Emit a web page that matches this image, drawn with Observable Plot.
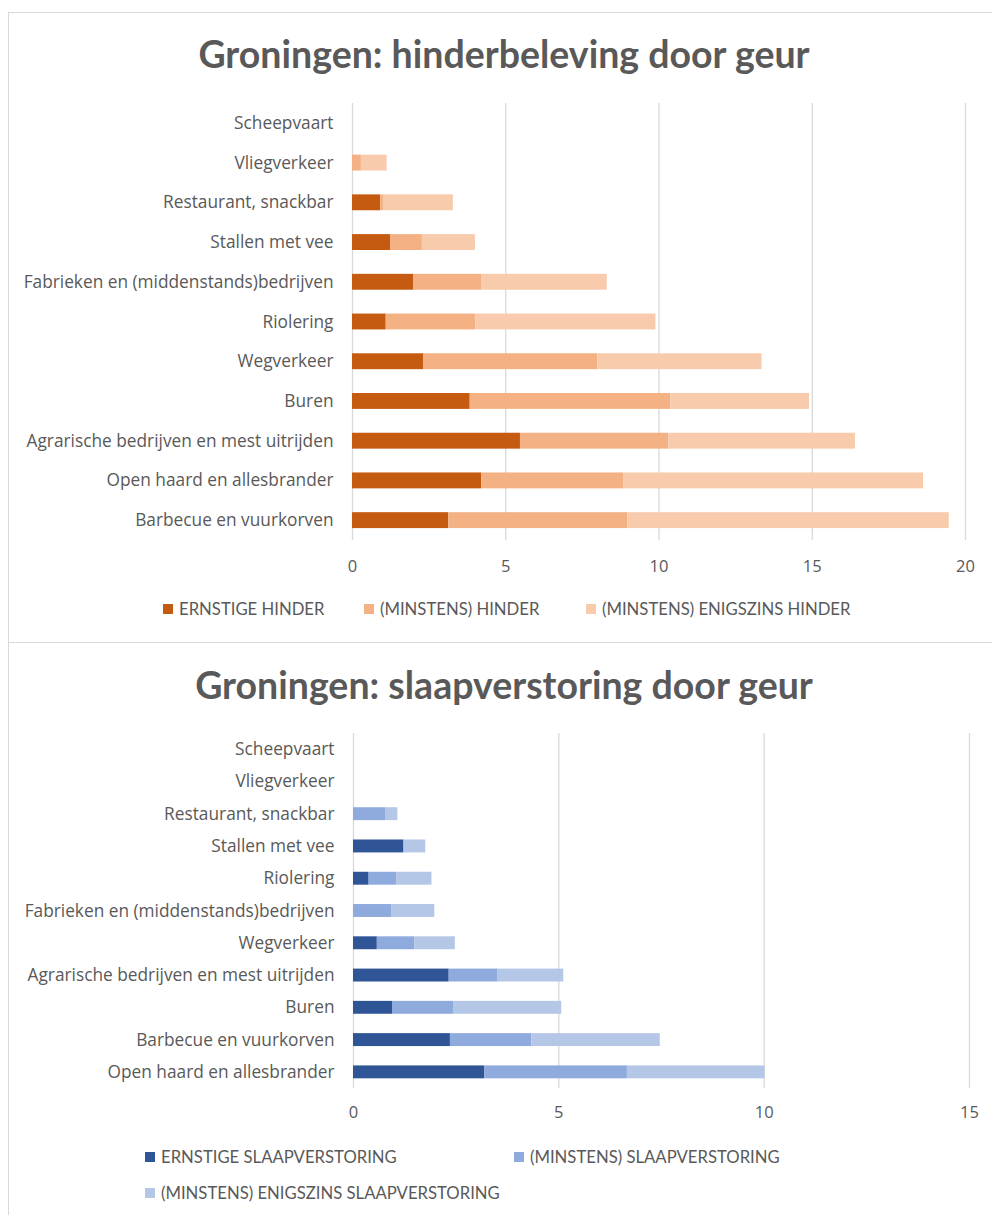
<!DOCTYPE html>
<html>
<head>
<meta charset="utf-8">
<script src="https://cdn.jsdelivr.net/npm/d3@7"></script>
<script src="https://cdn.jsdelivr.net/npm/@observablehq/plot@0.6"></script>
<style>
  html, body { margin: 0; padding: 0; background: #fff; }
  body { width: 992px; height: 1215px; position: relative; overflow: hidden; font-family: Lato, "Open Sans", sans-serif; color: #595959; }
  .panel { position: absolute; left: 8px; width: 1000px; border-left: 1.5px solid #d9d9d9; border-top: 1.5px solid #d9d9d9; box-sizing: border-box; }
  .title { position: absolute; left: 0; width: 1008px; text-align: center; font-weight: 700; font-size: 37.5px; color: #595959; white-space: nowrap; }
  .chart { position: absolute; left: 0; }
  .leg { position: absolute; font-size: 16.7px; color: #595959; white-space: nowrap; line-height: 1; }
  .sw { position: absolute; width: 10px; height: 10px; }
</style>
</head>
<body>
<div class="panel" style="top:12px;height:631px;"></div>
<div class="panel" style="top:642px;height:600px;"></div>
<div class="title" id="t1" style="top:31px;">Groningen: hinderbeleving door geur</div>
<div class="title" id="t2" style="top:662px;">Groningen: slaapverstoring door geur</div>
<div id="c1" class="chart" style="top:0px;"></div>
<div id="c2" class="chart" style="top:642px;"></div>
<div id="legends"></div>
<script>
// ---- Data: chart 1 (hinderbeleving), cumulative levels in % ----
const categories1 = ["Scheepvaart", "Vliegverkeer", "Restaurant, snackbar", "Stallen met vee",
  "Fabrieken en (middenstands)bedrijven", "Riolering", "Wegverkeer", "Buren",
  "Agrarische bedrijven en mest uitrijden", "Open haard en allesbrander", "Barbecue en vuurkorven"];
const ernstigeHinder = [0, 0, 0.92, 1.24, 1.99, 1.10, 2.33, 3.84, 5.48, 4.22, 3.14];
const minstensHinder = [0, 0.29, 1.01, 2.28, 4.23, 4.02, 8.00, 10.38, 10.32, 8.86, 8.98];
const minstensEnigszinsHinder = [0, 1.13, 3.29, 4.01, 8.31, 9.90, 13.36, 14.91, 16.41, 18.63, 19.47];
const series1 = ["ERNSTIGE HINDER", "(MINSTENS) HINDER", "(MINSTENS) ENIGSZINS HINDER"];
const ticks1 = [0, 5, 10, 15, 20];

// ---- Data: chart 2 (slaapverstoring), cumulative levels in % ----
const categories2 = ["Scheepvaart", "Vliegverkeer", "Restaurant, snackbar", "Stallen met vee", "Riolering",
  "Fabrieken en (middenstands)bedrijven", "Wegverkeer", "Agrarische bedrijven en mest uitrijden",
  "Buren", "Barbecue en vuurkorven", "Open haard en allesbrander"];
const ernstigeSlaap = [0, 0, 0, 1.23, 0.38, 0, 0.58, 2.33, 0.95, 2.36, 3.20];
const minstensSlaap = [0, 0, 0.78, 1.23, 1.06, 0.94, 1.49, 3.52, 2.45, 4.34, 6.67];
const minstensEnigszinsSlaap = [0, 0, 1.08, 1.76, 1.91, 1.98, 2.48, 5.12, 5.07, 7.47, 10.02];
const series2 = ["ERNSTIGE SLAAPVERSTORING", "(MINSTENS) SLAAPVERSTORING", "(MINSTENS) ENIGSZINS SLAAPVERSTORING"];
const ticks2 = [0, 5, 10, 15];

const colors1 = ["#C55A11", "#F4B183", "#F8CBAD"];
const colors2 = ["#2F5597", "#8FAADC", "#B4C7E7"];

function toSegments(cats, levels, series) {
  const rows = [];
  cats.forEach((c, i) => {
    let prev = 0;
    levels.forEach((lv, k) => {
      const v = lv[i];
      rows.push({cat: c, series: series[k], x1: prev, x2: Math.max(prev, v)});
      prev = Math.max(prev, v);
    });
  });
  return rows;
}

function makeChart(cats, rows, series, colors, ticks, domainMax, opts) {
  return Plot.plot({
    width: 992,
    height: opts.height,
    marginLeft: opts.marginLeft,
    marginRight: opts.marginRight,
    marginTop: opts.marginTop,
    marginBottom: opts.marginBottom,
    style: {fontFamily: "'Open Sans', Lato, sans-serif", fontSize: "16.5px", color: "#595959", background: "transparent"},
    x: {domain: [0, domainMax]},
    y: {domain: cats, paddingInner: 0.6, paddingOuter: 0.3, round: false},
    color: {domain: series, range: colors},
    marks: [
      Plot.gridX(ticks, {stroke: "#d9d9d9", strokeOpacity: 1, strokeWidth: 1.3}),
      Plot.barX(rows.filter(d => d.x2 > d.x1), {y: "cat", x1: "x1", x2: "x2", fill: "series"}),
      Plot.axisX({ticks, tickSize: 0, tickPadding: opts.xPad, tickFormat: d => String(d), label: null, fill: "#595959"}),
      Plot.axisY({tickSize: 0, tickPadding: 19, label: null, fill: "#595959", fontSize: 17.3})
    ]
  });
}

const rows1 = toSegments(categories1, [ernstigeHinder, minstensHinder, minstensEnigszinsHinder], series1);
const rows2 = toSegments(categories2, [ernstigeSlaap, minstensSlaap, minstensEnigszinsSlaap], series2);

document.getElementById("c1").append(makeChart(categories1, rows1, series1, colors1, ticks1, 20,
  {height: 590, marginLeft: 352, marginRight: 27, marginTop: 103, marginBottom: 50, xPad: 20}));
document.getElementById("c2").append(makeChart(categories2, rows2, series2, colors2, ticks2, 15,
  {height: 573, marginLeft: 353, marginRight: 23, marginTop: 91, marginBottom: 127, xPad: 18}));

// ---- Legends (HTML, below each chart) ----
const legendItems = [
  {label: series1[0], color: colors1[0], x: 163, y: 609},
  {label: series1[1], color: colors1[1], x: 364, y: 609},
  {label: series1[2], color: colors1[2], x: 586, y: 609},
  {label: series2[0], color: colors2[0], x: 145, y: 1157},
  {label: series2[1], color: colors2[1], x: 514, y: 1157},
  {label: series2[2], color: colors2[2], x: 145, y: 1193}
];
const lg = document.getElementById("legends");
legendItems.forEach(it => {
  const sw = document.createElement("div");
  sw.className = "sw";
  sw.style.left = it.x + "px";
  sw.style.top = (it.y - 5) + "px";
  sw.style.background = it.color;
  lg.append(sw);
  const t = document.createElement("div");
  t.className = "leg";
  t.style.left = (it.x + 16) + "px";
  t.style.top = (it.y - 8) + "px";
  t.textContent = it.label;
  lg.append(t);
});
</script>
</body>
</html>
